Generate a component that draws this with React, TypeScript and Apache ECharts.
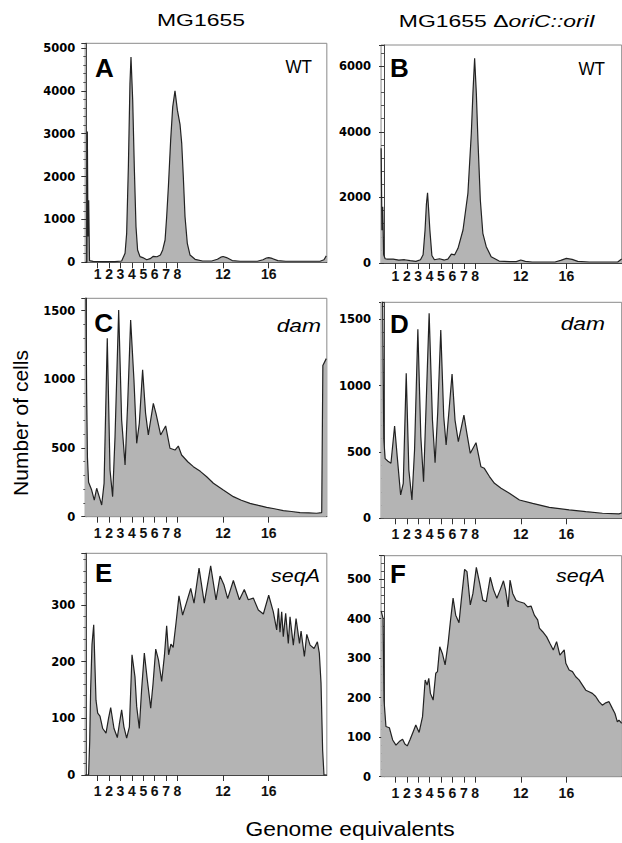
import React, { useEffect, useRef } from "react";
import * as echarts from "echarts";

// ---------- data (genome equivalents vs number of cells) ----------
const xTickValues = [1, 2, 3, 4, 5, 6, 7, 8, 12, 16];

const aX = [-0.09, 0.05, 0.09, 0.15, 0.21, 0.28, 0.6, 1.5, 2.5, 3.1, 3.4, 3.54, 3.69, 3.83, 3.92, 4.07, 4.21, 4.36, 4.5, 4.71, 4.95, 5.3, 5.6, 5.88, 6.2, 6.5, 6.7, 6.91, 7.05, 7.2, 7.4, 7.58, 7.78, 7.99, 8.22, 8.37, 8.51, 8.66, 8.86, 9.1, 9.54, 10.2, 11.0, 11.5, 11.8, 12.0, 12.3, 12.8, 13.5, 15.0, 15.5, 15.8, 16.0, 16.3, 16.8, 17.5, 20.5, 20.85, 21.05];
const aY = [0, 0, 3050, 600, 1450, 40, 20, 15, 15, 30, 210, 676, 2228, 4172, 4790, 3783, 2228, 830, 288, 132, 110, 60, 85, 140, 130, 170, 288, 520, 1063, 1762, 2851, 3627, 4000, 3550, 3220, 2774, 1995, 1063, 443, 170, 70, 30, 30, 70, 120, 135, 110, 40, 25, 25, 60, 100, 110, 90, 40, 25, 25, 60, 150];

const bX = [-0.25, -0.18, -0.11, -0.03, 0.1, 0.3, 0.8, 1.3, 1.8, 2.3, 2.8, 3.2, 3.43, 3.6, 3.72, 3.82, 3.92, 4.02, 4.2, 4.42, 4.87, 5.3, 5.6, 5.91, 6.2, 6.49, 6.93, 7.36, 7.66, 7.8, 7.95, 8.1, 8.24, 8.45, 8.67, 8.97, 9.4, 10.1, 11.0, 11.6, 12.0, 12.4, 13.0, 15.0, 15.5, 16.0, 16.5, 17.0, 18.0, 20.5, 20.85];
const bY = [3500, 1000, 1716, 250, 130, 120, 120, 90, 100, 70, 50, 100, 250, 1000, 1800, 2143, 1600, 1020, 230, 100, 130, 90, 120, 270, 250, 447, 1006, 2124, 3953, 5173, 6240, 5173, 3750, 1920, 905, 497, 193, 60, 40, 40, 90, 50, 30, 30, 80, 140, 110, 50, 30, 30, 120];

const cX = [-0.1, -0.03, 0.03, 0.1, 0.2, 0.47, 0.7, 0.91, 1.12, 1.35, 1.56, 1.84, 2.08, 2.31, 2.52, 2.84, 3.1, 3.4, 3.63, 3.89, 4.18, 4.42, 4.65, 4.94, 5.2, 5.44, 5.88, 6.11, 6.52, 6.96, 7.34, 7.78, 8.07, 8.36, 8.9, 9.39, 10.0, 10.56, 11.15, 12.02, 12.9, 13.6, 14.36, 15.1, 15.82, 16.5, 17.28, 18.0, 18.75, 19.5, 20.2, 20.65, 20.75, 21.05];
const cY = [1600, 1600, 900, 430, 250, 194, 121, 207, 150, 85, 243, 1298, 340, 146, 582, 1504, 704, 376, 825, 1431, 995, 534, 680, 1068, 752, 595, 825, 752, 595, 660, 498, 485, 514, 449, 400, 364, 330, 291, 243, 194, 146, 120, 97, 82, 68, 58, 44, 38, 30, 28, 25, 30, 1100, 1150];

const dX = [-0.25, -0.12, -0.02, 0.1, 0.35, 0.61, 0.93, 1.16, 1.46, 1.69, 1.95, 2.18, 2.45, 2.68, 2.97, 3.23, 3.47, 3.7, 3.96, 4.25, 4.48, 4.71, 4.98, 5.24, 5.45, 5.97, 6.23, 6.52, 7.01, 7.27, 7.57, 8.07, 8.5, 8.8, 9.25, 9.69, 10.27, 11.0, 11.88, 13.04, 14.5, 16.24, 17.7, 19.16, 20.6, 20.85];
const dY = [1650, 1650, 600, 450, 430, 415, 696, 465, 176, 264, 1093, 364, 138, 515, 1425, 615, 276, 867, 1546, 741, 419, 796, 1420, 766, 553, 1088, 741, 578, 779, 640, 490, 570, 389, 377, 315, 264, 226, 189, 138, 113, 83, 63, 50, 38, 33, 40];

const eX = [-0.1, 0.2, 0.3, 0.38, 0.5, 0.65, 0.85, 1.0, 1.2, 1.44, 1.73, 1.95, 2.14, 2.43, 2.72, 2.9, 3.1, 3.3, 3.54, 3.78, 4.01, 4.27, 4.42, 4.65, 4.85, 5.09, 5.35, 5.65, 5.85, 6.09, 6.33, 6.61, 6.85, 7.05, 7.22, 7.42, 7.62, 7.87, 8.13, 8.45, 8.8, 9.16, 9.45, 9.89, 10.35, 10.91, 11.38, 11.73, 12.08, 12.4, 12.9, 13.43, 13.86, 14.21, 14.65, 15.09, 15.53, 16.0, 16.4, 16.7, 16.85, 16.99, 17.14, 17.28, 17.49, 17.72, 17.87, 18.16, 18.4, 18.7, 18.84, 19.13, 19.34, 19.63, 19.98, 20.27, 20.44, 20.59, 20.73, 20.85, 21.1];
const eY = [0, 0, 60, 150, 230, 265, 132, 109, 104, 82, 74, 100, 119, 82, 66, 90, 115, 85, 65, 85, 212, 173, 121, 82, 150, 215, 168, 118, 160, 222, 203, 165, 210, 263, 212, 231, 225, 268, 316, 282, 305, 329, 303, 365, 303, 369, 309, 351, 335, 311, 343, 309, 327, 309, 312, 291, 284, 317, 288, 256, 294, 252, 288, 244, 285, 232, 279, 229, 276, 232, 254, 209, 248, 229, 223, 235, 215, 162, 44, 0, 0];

const fX = [-0.25, -0.08, 0.0, 0.17, 0.47, 0.76, 1.05, 1.34, 1.63, 1.83, 2.04, 2.27, 2.56, 2.79, 3.08, 3.38, 3.61, 3.78, 3.93, 4.07, 4.31, 4.54, 4.69, 4.89, 5.12, 5.36, 5.62, 5.82, 6.06, 6.29, 6.58, 6.78, 7.07, 7.28, 7.57, 7.8, 8.1, 8.39, 8.67, 8.97, 9.32, 9.61, 9.9, 10.19, 10.48, 10.66, 10.89, 11.06, 11.29, 11.59, 11.88, 12.31, 12.6, 12.9, 13.19, 13.48, 13.63, 13.92, 14.27, 14.56, 14.85, 15.14, 15.43, 15.81, 15.95, 16.24, 16.53, 16.82, 17.11, 17.41, 17.7, 17.99, 18.28, 18.57, 18.86, 19.15, 19.45, 19.74, 20.03, 20.26, 20.47, 20.61, 20.85];
const fY = [420, 400, 194, 127, 124, 93, 80, 89, 95, 83, 78, 93, 114, 131, 112, 152, 245, 232, 249, 211, 194, 262, 266, 329, 312, 283, 337, 392, 452, 409, 390, 447, 525, 519, 435, 464, 530, 490, 447, 443, 505, 473, 452, 473, 496, 473, 430, 498, 464, 446, 443, 439, 430, 432, 409, 397, 376, 367, 354, 337, 321, 342, 308, 321, 287, 270, 266, 253, 245, 232, 219, 215, 211, 203, 190, 181, 187, 190, 173, 160, 139, 143, 135];

const yTicksA = [0, 1000, 2000, 3000, 4000, 5000];
const yTicksB = [0, 2000, 4000, 6000];
const yTicksCD = [0, 500, 1000, 1500];
const yTicksE = [0, 100, 200, 300];
const yTicksF = [0, 100, 200, 300, 400, 500];

const panelLetters = ["A", "B", "C", "D", "E", "F"];
const strainLabels = ["WT", "WT", "dam", "dam", "seqA", "seqA"];
const columnTitles = ["MG1655", "MG1655 Δ", "oriC::oriI"];
const yAxisTitle = "Number of cells";
const xAxisTitle = "Genome equivalents";

const FONT = '"Liberation Sans", Arial, sans-serif';

export default function App() {
  const ref = useRef<HTMLDivElement>(null);

  useEffect(() => {
    if (!ref.current) return;
    const chart = echarts.init(ref.current, undefined, { renderer: "svg" });

    const L = { x0: 86.3, min: -0.1, max: 21.1 };
    const R = { x0: 384.0, min: -0.26, max: 20.85 };
    const PXU = 11.4;
    const panels = [
      { xs: aX, ys: aY, col: L, top: 43.3, bottom: 262.3, ymax: 5110, interval: 1000, ticks: yTicksA, xm: 5 },
      { xs: bX, ys: bY, col: R, top: 45.0, bottom: 263.0, ymax: 6646, interval: 2000, ticks: yTicksB, xm: 6 },
      { xs: cX, ys: cY, col: L, top: 298.3, bottom: 516.7, ymax: 1589, interval: 500, ticks: yTicksCD, xm: 9 },
      { xs: dX, ys: dY, col: R, top: 302.3, bottom: 518.3, ymax: 1629, interval: 500, ticks: yTicksCD, xm: 9 },
      { xs: eX, ys: eY, col: L, top: 553.3, bottom: 775.0, ymax: 391, interval: 100, ticks: yTicksE, xm: 9 },
      { xs: fX, ys: fY, col: R, top: 555.7, bottom: 776.7, ymax: 559.5, interval: 100, ticks: yTicksF, xm: 9 },
    ];

    const grid: any[] = [];
    const xAxis: any[] = [];
    const yAxis: any[] = [];
    const series: any[] = [];

    panels.forEach((p, i) => {
      const left = p.col.x0 + p.col.min * PXU;
      const width = (p.col.max - p.col.min) * PXU;
      grid.push({
        left,
        top: p.top,
        width,
        height: p.bottom - p.top,
        show: true,
        borderColor: "#8a8a8a",
        borderWidth: 1,
        backgroundColor: "transparent",
      });
      xAxis.push({
        type: "value",
        gridIndex: i,
        min: p.col.min,
        max: p.col.max,
        axisLine: { show: true, onZero: false, lineStyle: { color: "#444", width: 1 } },
        axisTick: { show: true, inside: false, length: 6, customValues: xTickValues, lineStyle: { color: "#333" } },
        axisLabel: {
          show: true,
          customValues: xTickValues,
          margin: p.xm,
          color: "#111",
          fontFamily: FONT,
          fontWeight: "bold",
          fontSize: 14,
          formatter: (v: number) => String(v),
        },
        splitLine: { show: false },
      });
      yAxis.push({
        type: "value",
        gridIndex: i,
        min: 0,
        max: p.ymax,
        interval: p.interval,
        axisLine: { show: true, lineStyle: { color: "#444", width: 1 } },
        axisTick: { show: true, inside: false, length: 5, lineStyle: { color: "#333" } },
        minorTick: { show: true, splitNumber: 5, length: 3, lineStyle: { color: "#555" } },
        axisLabel: {
          show: true,
          customValues: p.ticks,
          margin: 10,
          color: "#000",
          fontFamily: '"DejaVu Sans", Arial, sans-serif',
          fontWeight: "bold",
          fontSize: 11.5,
          formatter: (v: number) => String(v),
        },
        splitLine: { show: false },
      });
      series.push({
        type: "line",
        xAxisIndex: i,
        yAxisIndex: i,
        data: p.xs.map((x, k) => [x, p.ys[k]]),
        showSymbol: false,
        symbol: "none",
        smooth: false,
        clip: true,
        lineStyle: { color: "#222", width: 1.2 },
        areaStyle: { color: "#b4b4b4", opacity: 1 },
        silent: true,
      });
    });

    const letterPos = [
      [95, 67.5], [390, 67.5], [94.3, 322.5], [390, 324], [95, 573], [390, 574],
    ];
    const strainPos = [
      [312, 67], [605, 69], [321, 325], [605, 323.5], [320, 575], [605, 575.5],
    ];
    const strainItalic = [false, false, true, true, true, true];
    const strainScale = [0.9, 0.9, 1.2, 1.2, 1.13, 1.13];

    const graphic: any[] = [];
    panelLetters.forEach((t, i) => {
      graphic.push({
        type: "text",
        x: letterPos[i][0],
        y: letterPos[i][1],
        silent: true,
        style: {
          text: t,
          fontFamily: FONT,
          fontWeight: "bold",
          fontSize: 26,
          fill: "#000",
          align: "left",
          verticalAlign: "middle",
          textAlign: "left",
          textVerticalAlign: "middle",
        },
      });
    });
    strainLabels.forEach((t, i) => {
      graphic.push({
        type: "text",
        x: strainPos[i][0],
        y: strainPos[i][1],
        scaleX: strainScale[i],
        silent: true,
        style: {
          text: t,
          fontFamily: FONT,
          fontStyle: strainItalic[i] ? "italic" : "normal",
          fontSize: 19,
          fill: "#000",
          align: "right",
          verticalAlign: "middle",
          textAlign: "right",
          textVerticalAlign: "middle",
        },
      });
    });
    graphic.push({
      type: "text",
      x: 201,
      y: 20,
      scaleX: 1.35,
      silent: true,
      style: {
        text: columnTitles[0],
        fontFamily: FONT,
        fontSize: 17,
        fill: "#000",
        align: "center",
        verticalAlign: "middle",
        textAlign: "center",
        textVerticalAlign: "middle",
      },
    });
    graphic.push({
      type: "text",
      x: 497,
      y: 21,
      scaleX: 1.35,
      silent: true,
      style: {
        text: "{n|" + columnTitles[1] + "}{i|" + columnTitles[2] + "}",
        fontFamily: FONT,
        fontSize: 17,
        fill: "#000",
        align: "center",
        verticalAlign: "middle",
        textAlign: "center",
        textVerticalAlign: "middle",
        rich: {
          n: { fontFamily: FONT, fontSize: 17, fill: "#000", color: "#000" },
          i: { fontFamily: FONT, fontSize: 17, fontStyle: "italic", fill: "#000", color: "#000" },
        },
      },
    });
    graphic.push({
      type: "text",
      x: 20,
      y: 423,
      rotation: Math.PI / 2,
      silent: true,
      style: {
        text: yAxisTitle,
        fontFamily: FONT,
        fontSize: 21,
        fill: "#000",
        align: "center",
        verticalAlign: "middle",
        textAlign: "center",
        textVerticalAlign: "middle",
      },
    });
    graphic.push({
      type: "text",
      x: 350,
      y: 829,
      scaleX: 1.14,
      silent: true,
      style: {
        text: xAxisTitle,
        fontFamily: FONT,
        fontSize: 20,
        fill: "#000",
        align: "center",
        verticalAlign: "middle",
        textAlign: "center",
        textVerticalAlign: "middle",
      },
    });

    chart.setOption({
      animation: false,
      backgroundColor: "#fff",
      grid,
      xAxis,
      yAxis,
      series,
      graphic,
    });

    return () => chart.dispose();
  }, []);

  return (
    <div
      ref={ref}
      style={{ position: "absolute", left: 0, top: 0, width: 622, height: 843 }}
    />
  );
}
